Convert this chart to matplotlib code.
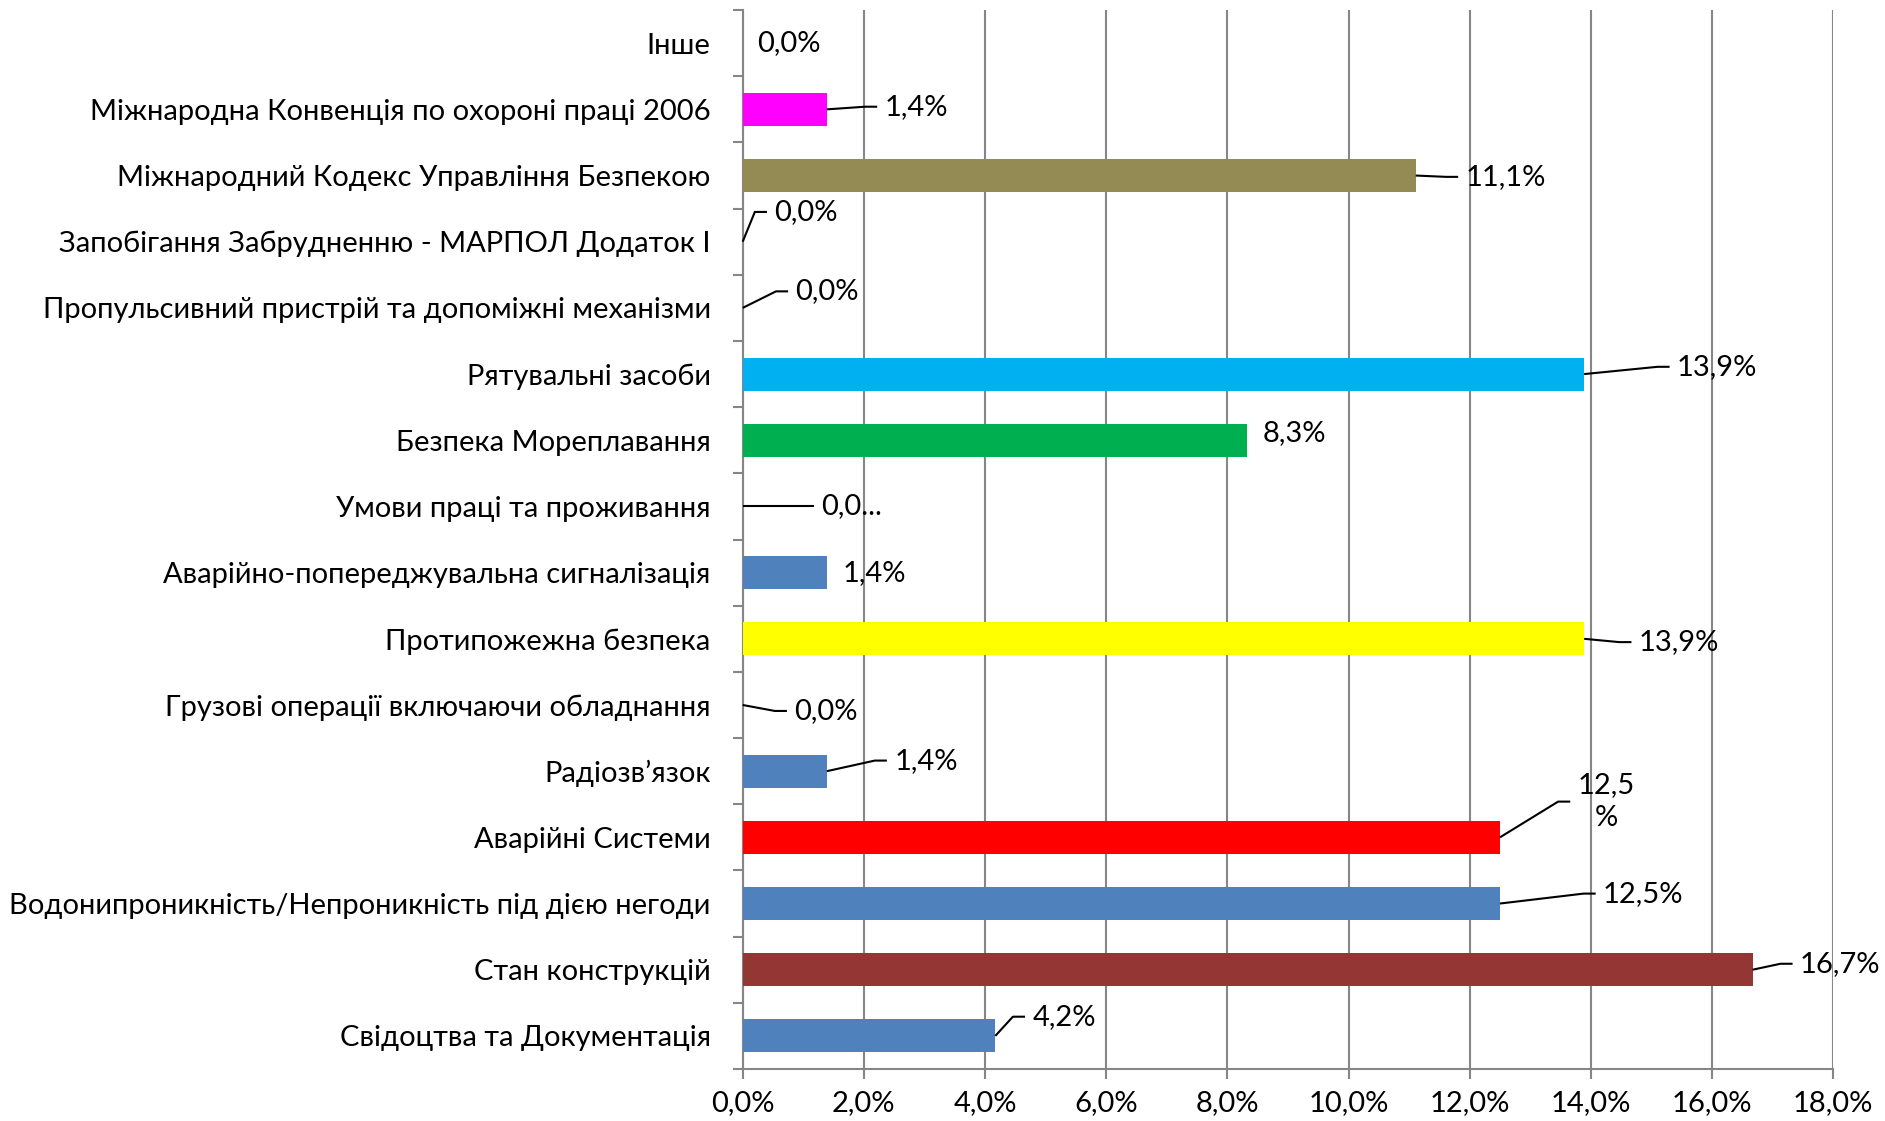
import matplotlib
matplotlib.use('Agg')
import matplotlib.pyplot as plt
from matplotlib.ticker import MultipleLocator, FixedLocator, FuncFormatter

plt.rcParams['font.family'] = ['Lato', 'DejaVu Sans']

# categories bottom -> top
categories = [
    "Свідоцтва та Документація",
    "Стан конструкцій",
    "Водонипроникність/Непроникність під дією негоди",
    "Аварійні Системи",
    "Радіозв’язок",
    "Грузові операції включаючи обладнання",
    "Протипожежна безпека",
    "Аварійно-попереджувальна сигналізація",
    "Умови праці та проживання",
    "Безпека Мореплавання",
    "Рятувальні засоби",
    "Пропульсивний пристрій та допоміжні механізми",
    "Запобігання Забрудненню - МАРПОЛ Додаток І",
    "Міжнародний Кодекс Управління Безпекою",
    "Міжнародна Конвенція по охороні праці 2006",
    "Інше",
]
values = [4.17, 16.67, 12.5, 12.5, 1.39, 0.0, 13.89, 1.39, 0.0, 8.33, 13.89, 0.0, 0.0, 11.11, 1.39, 0.0]
labels = ["4,2%", "16,7%", "12,5%", "12,5\n%", "1,4%", "0,0%", "13,9%", "1,4%",
          "0,0...", "8,3%", "13,9%", "0,0%", "0,0%", "11,1%", "1,4%", "0,0%"]
colors = ["#4F81BD", "#943634", "#4F81BD", "#FF0000", "#4F81BD", "#4F81BD", "#FFFF00", "#4F81BD",
          "#4F81BD", "#00B050", "#00B0F0", "#4F81BD", "#4F81BD", "#948A54", "#FF00FF", "#4F81BD"]

# label placement relative to bar end (x in %, y in category units) and leader line flag
label_dx = [0.61, 0.78, 1.70, 1.28, 1.11, 0.85, 0.90, 0.26, 1.29, 0.26, 1.53, 0.87, 0.52, 0.82, 0.95, 0.24]
label_dy = [0.29, 0.09, 0.15, 0.54, 0.16, -0.09, -0.05, 0.0, 0.0, 0.11, 0.11, 0.25, 0.45, -0.02, 0.04, 0.0]
leader = [1, 1, 1, 1, 1, 1, 1, 0, 1, 0, 1, 1, 1, 1, 1, 0]

fig = plt.figure(figsize=(18.85, 11.21), dpi=100)
ax = fig.add_axes([0.394, 0.0464, 0.5785, 0.9446])

y = list(range(len(categories)))
ax.barh(y, values, height=0.5, color=colors, zorder=3)

fs = 21
for i, v in enumerate(values):
    tx = v + label_dx[i]
    ty = i + label_dy[i]
    ax.text(tx, ty, labels[i], ha='left', va='center', fontsize=fs,
            multialignment='center', linespacing=1.3, zorder=5)
    if leader[i]:
        xe = tx - 0.12
        ax.plot([v, xe - 0.2, xe], [i, ty, ty], color='black', lw=1.5,
                zorder=4, clip_on=False, solid_capstyle='butt')

ax.set_xlim(0, 18)
ax.set_ylim(-0.5, len(categories) - 0.5)
ax.xaxis.set_major_locator(MultipleLocator(2))
ax.xaxis.set_major_formatter(FuncFormatter(lambda x, p: f"{x:.1f}%".replace('.', ',')))
ax.grid(axis='x', color='#868686', lw=1.5, zorder=0)

ax.set_yticks(y)
ax.set_yticklabels(categories)
ax.yaxis.set_minor_locator(FixedLocator([k - 0.5 for k in range(len(categories) + 1)]))
ax.tick_params(axis='y', which='major', length=0, pad=23, labelsize=fs)
ax.tick_params(axis='y', which='minor', length=7, width=1.5, color='#868686', direction='out')
ax.tick_params(axis='x', length=7, width=1.5, color='#868686', pad=8, labelsize=fs)

for s in ['top', 'right']:
    ax.spines[s].set_visible(False)
for s in ['left', 'bottom']:
    ax.spines[s].set_color('#868686')
    ax.spines[s].set_linewidth(1.5)

fig.savefig('out.png', dpi=100)
